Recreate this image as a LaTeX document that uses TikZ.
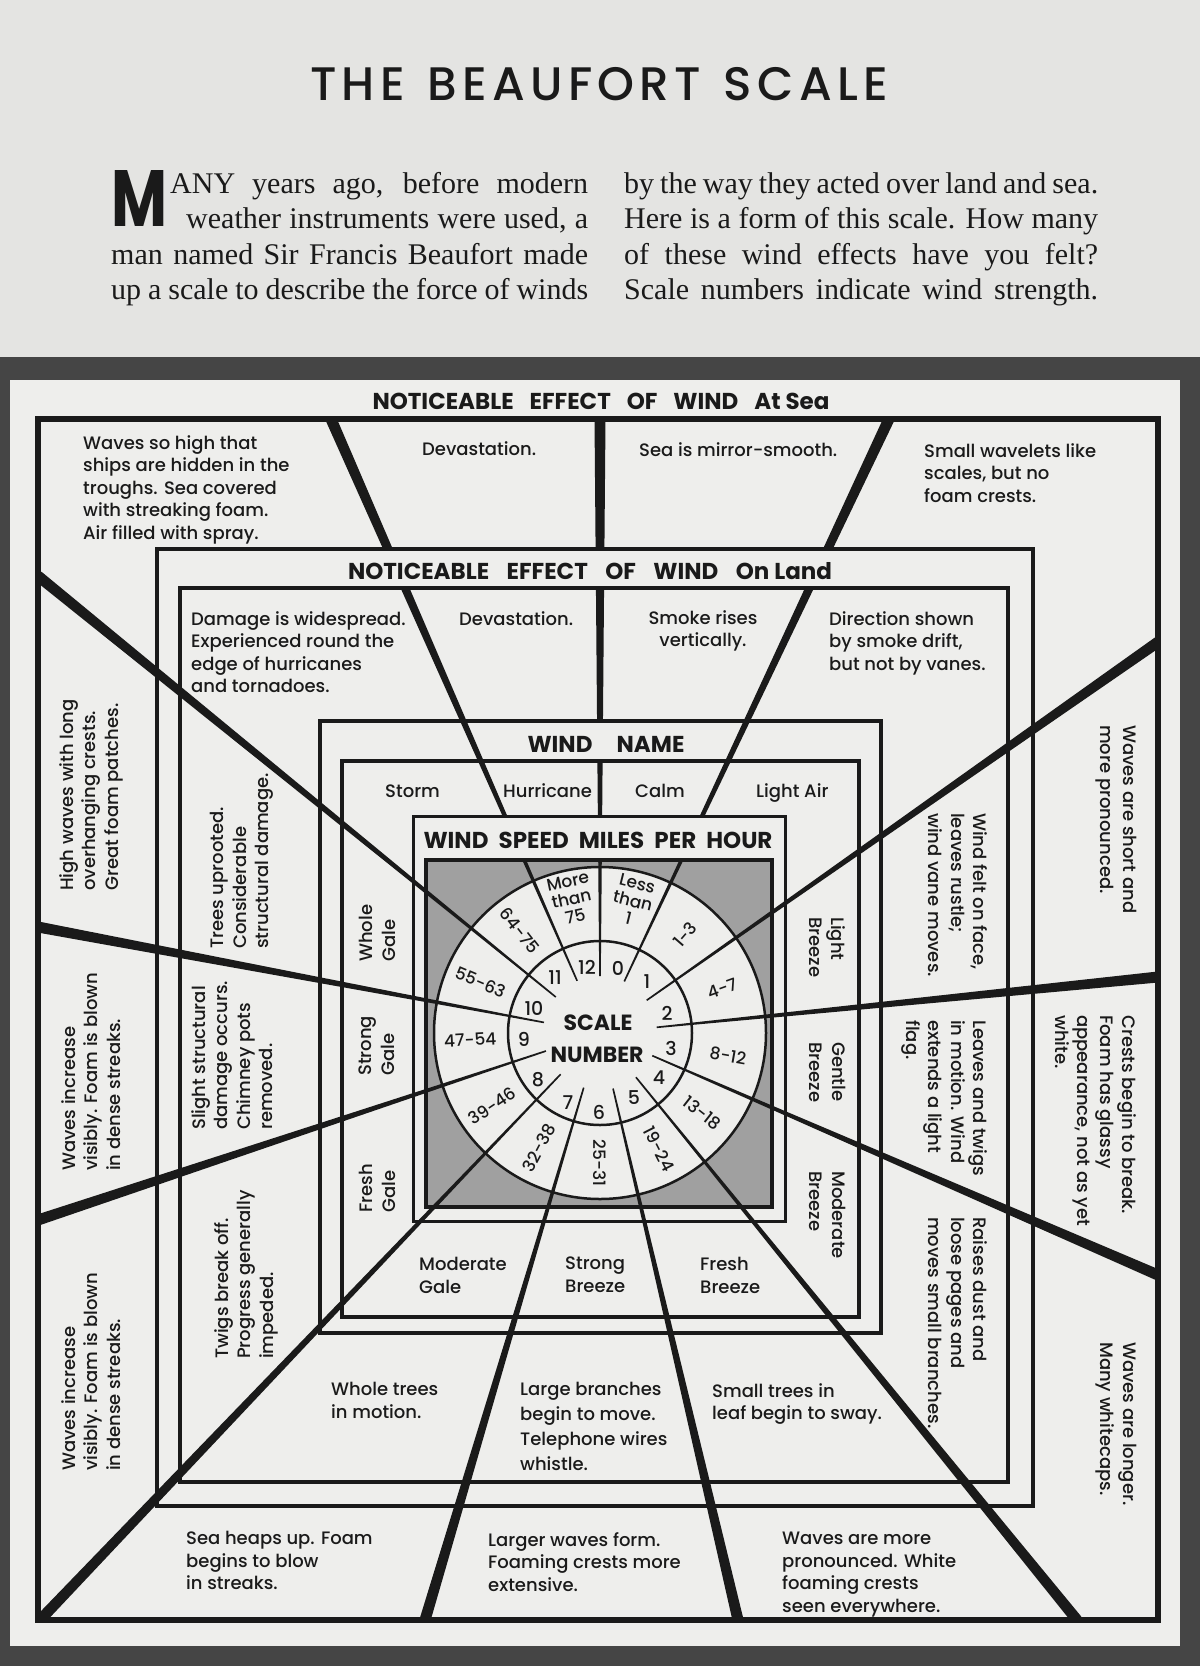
\documentclass[tikz,border=0pt]{standalone}
\usepackage{fontspec}
\usepackage{graphicx}
\usetikzlibrary{calc}
\setmainfont{Liberation Serif}
\newfontfamily\pop{Poppins}[UprightFont=* Medium, BoldFont=* Bold]
\definecolor{pagebg}{HTML}{E4E4E2}
\definecolor{panelbg}{HTML}{EEEEEC}
\definecolor{framec}{HTML}{454545}
\definecolor{ink}{HTML}{1A1A1A}
\definecolor{sqgray}{HTML}{A0A0A0}
\begin{document}
\begin{tikzpicture}[x=1bp,y=-1bp,
  body/.style={font={\pop\fontsize{18bp}{22.5bp}\selectfont}, align=left, inner sep=0pt, text=ink, anchor=north west},
  bodyc/.style={body, align=center, anchor=north},
  rotl/.style={body, rotate=90},
  rotr/.style={body, rotate=-90},
  wname/.style={font={\pop\fontsize{18bp}{22bp}\selectfont}, inner sep=0pt, text=ink, anchor=base west},
  hd/.style={font={\pop\bfseries\fontsize{23bp}{23bp}\selectfont}, inner sep=0pt, text=ink},
  para/.style={font={\fontsize{30bp}{30bp}\selectfont}, inner sep=0pt, anchor=base west, text=ink},
  num/.style={font={\pop\fontsize{19bp}{19bp}\selectfont}, inner sep=0pt, text=ink},
  rng/.style={font={\pop\fontsize{17bp}{18bp}\selectfont}, inner sep=0pt, text=ink, align=center},
  boxline/.style={draw=ink, line width=3.5bp},
  cover/.style={fill=panelbg, draw=none}
]
\useasboundingbox (0,0) rectangle (1200,1666);
% backgrounds
\fill[pagebg] (0,0) rectangle (1200,1666);
\fill[framec] (0,357) rectangle (1200,1666);
\fill[panelbg] (10,380) rectangle (1180,1646);

% heading text
\node[anchor=base, inner sep=0pt, text=ink, font={\pop\fontsize{47bp}{47bp}\selectfont}] (title) at (599,100)
  {\makebox[578bp][s]{T\hfil H\hfil E\hfil\ \hfil B\hfil E\hfil A\hfil U\hfil F\hfil O\hfil R\hfil T\hfil\ \hfil S\hfil C\hfil A\hfil L\hfil E}};
\node[anchor=south west, inner sep=0pt, text=ink] (dropM) at (111,227) {\resizebox{56bp}{56bp}{\pop\bfseries M}};
\node[para] (p1) at (170,193) {\makebox[418bp][s]{ANY years ago, before modern}};
\node[para] (p2) at (186,228) {\makebox[402bp][s]{weather instruments were used, a}};
\node[para] (p3) at (111,264) {\makebox[477bp][s]{man named Sir Francis Beaufort made}};
\node[para] (p4) at (111,299) {\makebox[477bp][s]{up a scale to describe the force of winds}};
\node[para] (q1) at (624,193) {\makebox[474bp][s]{by the way they acted over land and sea.}};
\node[para] (q2) at (624,228) {\makebox[474bp][s]{Here is a form of this scale. How many}};
\node[para] (q3) at (624,264) {\makebox[474bp][s]{of these wind effects have you felt?}};
\node[para] (q4) at (624,299) {\makebox[474bp][s]{Scale numbers indicate wind strength.}};

% centre
\coordinate (C) at (600,1033);
\fill[sqgray] (426,860) rectangle (772,1207);
\fill[panelbg] (C) circle[radius=166bp];

% spokes (tapered)
\begin{scope}
\clip (38,419) rectangle (1158,1620);
\foreach \ex/\ey [count=\i] in {600/419, 889/419, 1158/642, 1158/977, 1158/1275, 1077/1620, 738/1620, 425/1620, 40/1620, 38/1220, 38/927, 38/576, 331/419} {
  \coordinate (E\i) at (\ex,\ey);
  \coordinate (S\i) at ($(C)!57bp!(E\i)$);
  \fill[ink] ($(S\i)!0.8bp!90:(E\i)$) -- ($(E\i)!5.5bp!-90:(S\i)$) -- ($(E\i)!5.5bp!90:(S\i)$) -- ($(S\i)!0.8bp!-90:(E\i)$) -- cycle;
}
\end{scope}

% title bands cover the spokes
\fill[cover] (338,551) rectangle (842,586);
\fill[cover] (518,723) rectangle (695,759);
\fill[cover] (415,818) rectangle (783,858);

% boxes
\draw[draw=ink, line width=6bp] (38,419) rectangle (1158,1620);
\draw[boxline] (157,549) rectangle (1033,1506);
\draw[boxline] (180,588) rectangle (1008,1482);
\draw[boxline] (320,721) rectangle (881,1333);
\draw[boxline] (342,761) rectangle (859,1317);
\draw[draw=ink, line width=3bp] (413,816) rectangle (785,1221);
\draw[draw=ink, line width=4bp] (426,860) rectangle (772,1207);
\draw[draw=ink, line width=2.5bp] (C) circle[radius=166bp];
\draw[draw=ink, line width=2.5bp] (C) circle[radius=92bp];

% titles
\node[hd] (tSea) at (601,401) {\makebox[457bp][s]{NOTICEABLE\hfil\ EFFECT\hfil\ OF\hfil\ WIND\hfil\ At Sea}};
\node[hd] (tLand) at (590,571) {\makebox[484bp][s]{NOTICEABLE\hfil\ EFFECT\hfil\ OF\hfil\ WIND\hfil\ On Land}};
\node[hd] (tName) at (606,744) {\makebox[157bp][s]{WIND\hfil\ NAME}};
\node[hd] (tSpeed) at (598,840) {\makebox[349bp][s]{WIND\hfil\ SPEED\hfil\ MILES\hfil\ PER\hfil\ HOUR}};

% sea texts
\node[body] (s1) at (83,435) {Waves so high that\\ships are hidden in the\\troughs. Sea covered\\with streaking foam.\\Air filled with spray.};
\node[body] (s2) at (422,441) {Devastation.};
\node[body] (s3) at (639,442) {Sea is mirror-smooth.};
\node[body] (s4) at (924,443) {Small wavelets like\\scales, but no\\foam crests.};
\node[body] (s5) at (186,1531) {Sea heaps up. Foam\\begins to blow\\in streaks.};
\node[body] (s6) at (488,1532) {Larger waves form.\\Foaming crests more\\extensive.};
\node[body] (s7) at (782,1532) {Waves are more\\pronounced. White\\foaming crests\\seen everywhere.};
\node[rotl] (s8) at (59,891) {High waves with long\\overhanging crests.\\Great foam patches.};
\node[rotl] (s9) at (61,1171) {Waves increase\\visibly. Foam is blown\\in dense streaks.};
\node[rotl] (s10) at (61,1471) {Waves increase\\visibly. Foam is blown\\in dense streaks.};
\node[rotr] (s11) at (1137,725) {Waves are short and\\more pronounced.};
\node[rotr] (s12) at (1137,1015) {Crests begin to break.\\Foam has glassy\\appearance, not as yet\\white.};
\node[rotr] (s13) at (1137,1342) {Waves are longer.\\Many whitecaps.};

% land texts
\node[body] (l1) at (191,611) {Damage is widespread.\\Experienced round the\\edge of hurricanes\\and tornadoes.};
\node[body] (l2) at (459,611) {Devastation.};
\node[bodyc] (l3) at (703,610) {Smoke rises\\vertically.};
\node[body] (l4) at (829,611) {Direction shown\\by smoke drift,\\but not by vanes.};
\node[rotl] (l5) at (210,949) {Trees uprooted.\\Considerable\\structural damage.};
\node[rotl] (l6) at (191,1130) {Slight structural\\damage occurs.\\Chimney pots\\removed.};
\node[rotl] (l7) at (214,1359) {Twigs break off.\\Progress generally\\impeded.};
\node[rotr] (l8) at (988,813) {Wind felt on face,\\leaves rustle;\\wind vane moves.};
\node[rotr] (l9) at (988,1020) {Leaves and twigs\\in motion. Wind\\extends a light\\flag.};
\node[rotr] (l10) at (988,1217) {Raises dust and\\loose pages and\\moves small branches.};
\node[body] (l11) at (331,1382) {Whole trees\\in motion.};
\node[body, font={\pop\fontsize{18bp}{25bp}\selectfont}] (l12) at (520,1382) {Large branches\\begin to move.\\Telephone wires\\whistle.};
\node[body] (l13) at (712,1383) {Small trees in\\leaf begin to sway.};

% wind names
\node[wname] (nStorm) at (385,797) {Storm};
\node[wname] (nHurr) at (503,797) {Hurricane};
\node[wname] (nCalm) at (635,797) {Calm};
\node[wname] (nLightA) at (756,797) {Light Air};
\node[body] (nModG) at (419,1257) {Moderate\\Gale};
\node[body] (nStrB) at (565,1257) {Strong\\Breeze};
\node[body] (nFrB) at (700,1257) {Fresh\\Breeze};
\node[rotl] (nWholeG) at (359,962) {Whole\\Gale};
\node[rotl] (nStrG) at (359,1076) {Strong\\Gale};
\node[rotl] (nFrG) at (359,1213) {Fresh\\Gale};
\node[rotr] (nLightB) at (846,917) {Light\\Breeze};
\node[rotr] (nGentB) at (846,1042) {Gentle\\Breeze};
\node[rotr] (nModB) at (846,1171) {Moderate\\Breeze};

% scale numbers
\node[font={\pop\bfseries\fontsize{22bp}{22bp}\selectfont}, inner sep=0pt, text=ink] (scl) at (598,1023) {SCALE};
\node[font={\pop\bfseries\fontsize{22bp}{22bp}\selectfont}, inner sep=0pt, text=ink] (nmb) at (597,1055) {NUMBER};
\node[num] (k12) at (587,967) {12};
\node[num] (k0) at (618,968) {0};
\node[num] (k1) at (647,982) {1};
\node[num] (k2) at (667,1013) {2};
\node[num] (k3) at (671,1048) {3};
\node[num] (k4) at (659,1078) {4};
\node[num] (k5) at (634,1098) {5};
\node[num] (k6) at (599,1112) {6};
\node[num] (k7) at (568,1103) {7};
\node[num] (k8) at (538,1080) {8};
\node[num] (k9) at (524,1039) {9};
\node[num] (k10) at (534,1008) {10};
\node[num] (k11) at (555,978) {11};

% wind speeds
\node[rng, rotate=-14] (w0) at ({600+136*cos(76)},{1033-136*sin(76)}) {Less\\than\\1};
\node[rng, rotate=12] (w12) at ({600+137*cos(102)},{1033-137*sin(102)}) {More\\than\\75};
\node[rng, rotate=49] (w1) at ({600+130*cos(49)},{1033-130*sin(49)}) {1-3};
\node[rng, rotate=20] (w2) at ({600+130*cos(20)},{1033-130*sin(20)}) {4-7};
\node[rng, rotate=-10] (w3) at ({600+130*cos(-10)},{1033-130*sin(-10)}) {8-12};
\node[rng, rotate=-38] (w4) at ({600+130*cos(-38)},{1033-130*sin(-38)}) {13-18};
\node[rng, rotate=-63] (w5) at ({600+130*cos(-63)},{1033-130*sin(-63)}) {19-24};
\node[rng, rotate=-90] (w6) at ({600+130*cos(-90)},{1033-130*sin(-90)}) {25-31};
\node[rng, rotate=62] (w7) at ({600+130*cos(-118)},{1033-130*sin(-118)}) {32-38};
\node[rng, rotate=34] (w8) at ({600+130*cos(-146)},{1033-130*sin(-146)}) {39-46};
\node[rng, rotate=3] (w9) at ({600+130*cos(183)},{1033-130*sin(183)}) {47-54};
\node[rng, rotate=-23] (w10) at ({600+130*cos(157)},{1033-130*sin(157)}) {55-63};
\node[rng, rotate=-52] (w11) at ({600+130*cos(128)},{1033-130*sin(128)}) {64-75};
\end{tikzpicture}
\end{document}
